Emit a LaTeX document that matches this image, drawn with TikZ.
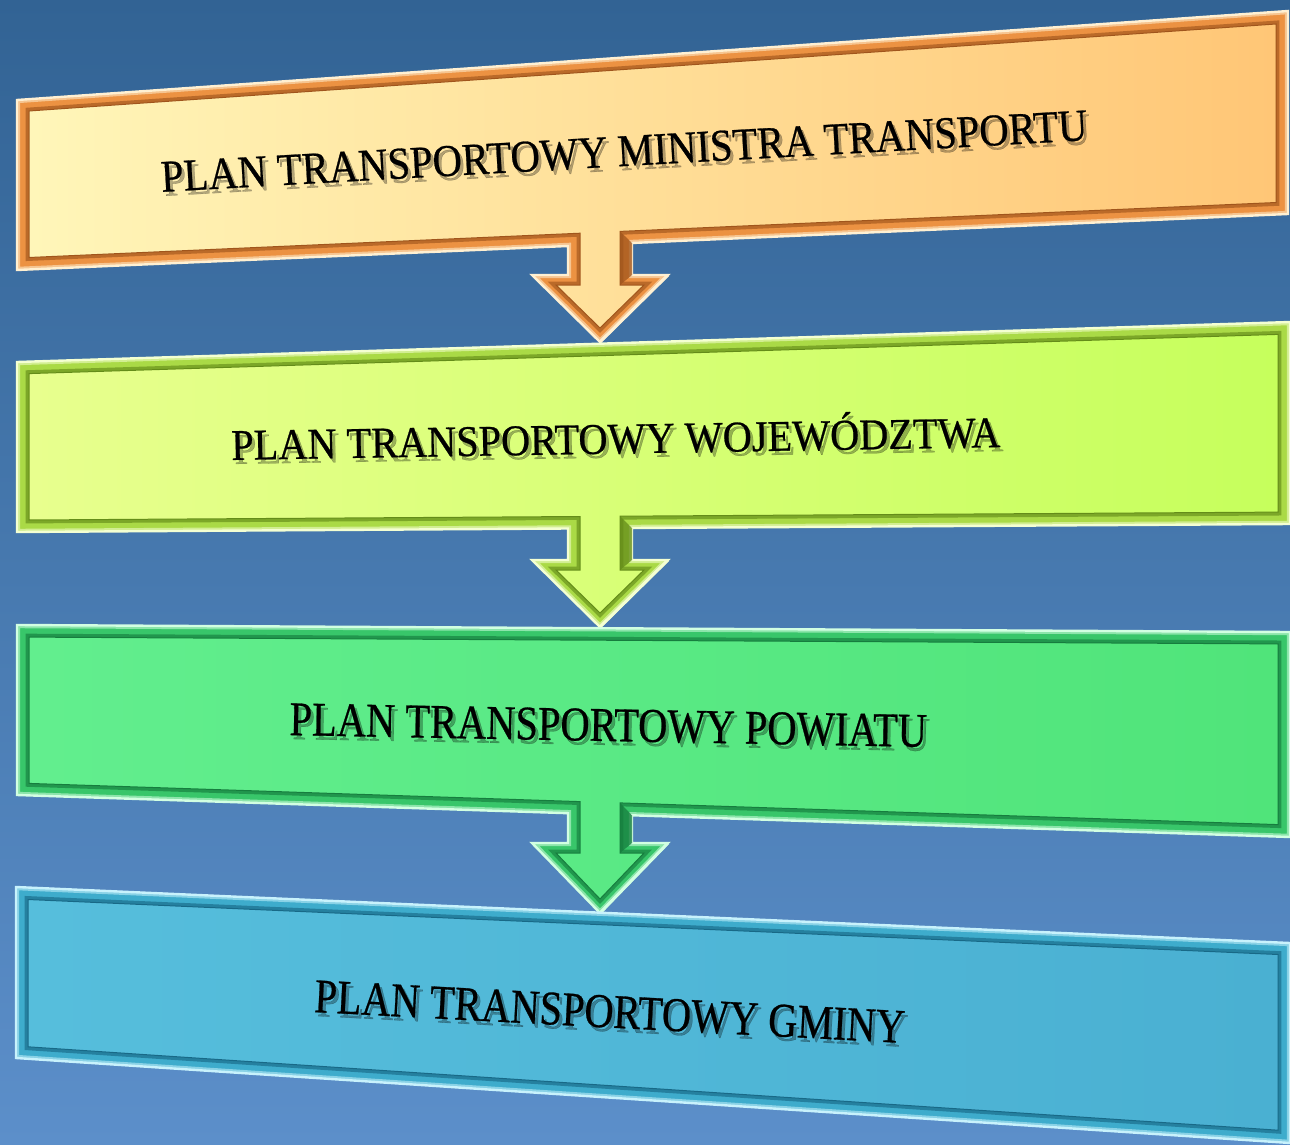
\documentclass[tikz,border=0pt]{standalone}
\usepackage{fontspec}
\setmainfont{Liberation Serif}[FakeBold=0.6]
\definecolor{bgtop}{RGB}{50,99,148}
\definecolor{bgbot}{RGB}{92,143,202}
% orange
\definecolor{Aband}{RGB}{236,146,66}
\definecolor{Adark}{RGB}{160,85,28}
\definecolor{Alight}{RGB}{255,240,210}
\definecolor{AL}{RGB}{255,246,185}
\definecolor{AR}{RGB}{255,198,118}
% lime
\definecolor{Bband}{RGB}{170,218,70}
\definecolor{Bdark}{RGB}{100,140,25}
\definecolor{Blight}{RGB}{244,255,210}
\definecolor{BL}{RGB}{232,255,142}
\definecolor{BR}{RGB}{198,255,92}
% green
\definecolor{Cband}{RGB}{56,198,106}
\definecolor{Cdark}{RGB}{22,125,62}
\definecolor{Clight}{RGB}{210,255,226}
\definecolor{CL}{RGB}{98,238,142}
\definecolor{CR}{RGB}{80,228,122}
% cyan
\definecolor{Dband}{RGB}{62,172,204}
\definecolor{Ddark}{RGB}{24,105,135}
\definecolor{Dlight}{RGB}{200,242,252}
\definecolor{DL}{RGB}{86,190,220}
\definecolor{DR}{RGB}{74,176,210}
\begin{document}
\begin{tikzpicture}[x={(0.5pt,0)},y={(0,-0.5pt)},
  dropshadow/.style={fill=black,opacity=0.28,shift={(4,6)}},
  bandpath/.style={fill=#1band,draw=#1light,line width=1.2pt},
  rimlight/.style={draw=#1light,line width=3.2pt,opacity=0.55},
  rimdark/.style={draw=#1dark,line width=3.4pt,opacity=0.65},
  innerpath/.style={left color=#1L,right color=#1R,draw=#1dark,line width=0.5pt},
  stemshade/.style={fill=#1dark,opacity=0.75},
  edgelight/.style={draw=#1light,line width=1.5pt},
  txt/.style={anchor=base,inner sep=0pt,text=black},
  txtshadow/.style={anchor=base,inner sep=0pt,text=black,opacity=0.3}]
\useasboundingbox (0,0) rectangle (1290,1145);
\shade[top color=bgtop,bottom color=bgbot] (0,0) rectangle (1290,1145);

% ---------- box 1 coordinates ----------
\coordinate (Ao1) at (17,100);   \coordinate (Ao2) at (1288,11);
\coordinate (Ao3) at (1288,214); \coordinate (Ao4) at (632,243);
\coordinate (Ao5) at (632,275);  \coordinate (Ao6) at (668,275);
\coordinate (Ao7) at (600,342);  \coordinate (Ao8) at (532,275);
\coordinate (Ao9) at (568,275);  \coordinate (Ao10) at (568,246);
\coordinate (Ao11) at (17,270);
\coordinate (Ai1) at (29,111);   \coordinate (Ai2) at (1276,24);
\coordinate (Ai3) at (1276,202.5); \coordinate (Ai4) at (620,231.4);
\coordinate (Ai5) at (620,285);  \coordinate (Ai6) at (644,285);
\coordinate (Ai7) at (600,328);  \coordinate (Ai8) at (556,285);
\coordinate (Ai9) at (580,285);  \coordinate (Ai10) at (580,233.2);
\coordinate (Ai11) at (29,257.5);
% ---------- box 2 coordinates ----------
\coordinate (Bo1) at (17,362);   \coordinate (Bo2) at (1290,322);
\coordinate (Bo3) at (1290,524); \coordinate (Bo4) at (632,528);
\coordinate (Bo5) at (632,560);  \coordinate (Bo6) at (668,560);
\coordinate (Bo7) at (600,627);  \coordinate (Bo8) at (532,560);
\coordinate (Bo9) at (568,560);  \coordinate (Bo10) at (568,528.5);
\coordinate (Bo11) at (17,532);
\coordinate (Bi1) at (29,373.6); \coordinate (Bi2) at (1278,334.4);
\coordinate (Bi3) at (1278,512.1); \coordinate (Bi4) at (620,516.2);
\coordinate (Bi5) at (620,570);  \coordinate (Bi6) at (644,570);
\coordinate (Bi7) at (600,613);  \coordinate (Bi8) at (556,570);
\coordinate (Bi9) at (580,570);  \coordinate (Bi10) at (580,516.5);
\coordinate (Bi11) at (29,520);
% ---------- box 3 coordinates ----------
\coordinate (Co1) at (17,625);   \coordinate (Co2) at (1290,632);
\coordinate (Co3) at (1290,837); \coordinate (Co4) at (632,815.3);
\coordinate (Co5) at (632,843);  \coordinate (Co6) at (668,843);
\coordinate (Co7) at (600,913);  \coordinate (Co8) at (532,843);
\coordinate (Co9) at (568,843);  \coordinate (Co10) at (568,813.2);
\coordinate (Co11) at (17,795);
\coordinate (Ci1) at (29,637.1); \coordinate (Ci2) at (1278,643.9);
\coordinate (Ci3) at (1278,824.6); \coordinate (Ci4) at (620,802.9);
\coordinate (Ci5) at (620,853);  \coordinate (Ci6) at (644,853);
\coordinate (Ci7) at (600,899);  \coordinate (Ci8) at (556,853);
\coordinate (Ci9) at (580,853);  \coordinate (Ci10) at (580,801.6);
\coordinate (Ci11) at (29,783.4);
% ---------- box 4 coordinates ----------
\coordinate (Do1) at (16,887);   \coordinate (Do2) at (1290,943);
\coordinate (Do3) at (1290,1143); \coordinate (Do4) at (16,1058);
\coordinate (Di1) at (28,899.5); \coordinate (Di2) at (1278,954.5);
\coordinate (Di3) at (1278,1130.2); \coordinate (Di4) at (28,1046.8);

% ---------- box 1 ----------
\fill[dropshadow] (Ao1)--(Ao2)--(Ao3)--(Ao4)--(Ao5)--(Ao6)--(Ao7)--(Ao8)--(Ao9)--(Ao10)--(Ao11)--cycle;
\filldraw[bandpath=A] (Ao1)--(Ao2)--(Ao3)--(Ao4)--(Ao5)--(Ao6)--(Ao7)--(Ao8)--(Ao9)--(Ao10)--(Ao11)--cycle;
\begin{scope}
\clip (Ao1)--(Ao2)--(Ao3)--(Ao4)--(Ao5)--(Ao6)--(Ao7)--(Ao8)--(Ao9)--(Ao10)--(Ao11)--cycle;
\draw[rimlight=A] (Ao1)--(Ao2)--(Ao3)--(Ao4)--(Ao5)--(Ao6)--(Ao7)--(Ao8)--(Ao9)--(Ao10)--(Ao11)--cycle;
\end{scope}
\draw[rimdark=A] (Ai1)--(Ai2)--(Ai3)--(Ai4)--(Ai5)--(Ai6)--(Ai7)--(Ai8)--(Ai9)--(Ai10)--(Ai11)--cycle;
\shade[innerpath=A] (Ai1)--(Ai2)--(Ai3)--(Ai4)--(Ai5)--(Ai6)--(Ai7)--(Ai8)--(Ai9)--(Ai10)--(Ai11)--cycle;
\fill[stemshade=A] (Ai4)--(Ao4)--(Ao5)--(Ai5)--cycle;
\draw[edgelight=A] (Ao6)--(Ao7);

% ---------- box 2 ----------
\fill[dropshadow] (Bo1)--(Bo2)--(Bo3)--(Bo4)--(Bo5)--(Bo6)--(Bo7)--(Bo8)--(Bo9)--(Bo10)--(Bo11)--cycle;
\filldraw[bandpath=B] (Bo1)--(Bo2)--(Bo3)--(Bo4)--(Bo5)--(Bo6)--(Bo7)--(Bo8)--(Bo9)--(Bo10)--(Bo11)--cycle;
\begin{scope}
\clip (Bo1)--(Bo2)--(Bo3)--(Bo4)--(Bo5)--(Bo6)--(Bo7)--(Bo8)--(Bo9)--(Bo10)--(Bo11)--cycle;
\draw[rimlight=B] (Bo1)--(Bo2)--(Bo3)--(Bo4)--(Bo5)--(Bo6)--(Bo7)--(Bo8)--(Bo9)--(Bo10)--(Bo11)--cycle;
\end{scope}
\draw[rimdark=B] (Bi1)--(Bi2)--(Bi3)--(Bi4)--(Bi5)--(Bi6)--(Bi7)--(Bi8)--(Bi9)--(Bi10)--(Bi11)--cycle;
\shade[innerpath=B] (Bi1)--(Bi2)--(Bi3)--(Bi4)--(Bi5)--(Bi6)--(Bi7)--(Bi8)--(Bi9)--(Bi10)--(Bi11)--cycle;
\fill[stemshade=B] (Bi4)--(Bo4)--(Bo5)--(Bi5)--cycle;
\draw[edgelight=B] (Bo6)--(Bo7);

% ---------- box 3 ----------
\fill[dropshadow] (Co1)--(Co2)--(Co3)--(Co4)--(Co5)--(Co6)--(Co7)--(Co8)--(Co9)--(Co10)--(Co11)--cycle;
\filldraw[bandpath=C] (Co1)--(Co2)--(Co3)--(Co4)--(Co5)--(Co6)--(Co7)--(Co8)--(Co9)--(Co10)--(Co11)--cycle;
\begin{scope}
\clip (Co1)--(Co2)--(Co3)--(Co4)--(Co5)--(Co6)--(Co7)--(Co8)--(Co9)--(Co10)--(Co11)--cycle;
\draw[rimlight=C] (Co1)--(Co2)--(Co3)--(Co4)--(Co5)--(Co6)--(Co7)--(Co8)--(Co9)--(Co10)--(Co11)--cycle;
\end{scope}
\draw[rimdark=C] (Ci1)--(Ci2)--(Ci3)--(Ci4)--(Ci5)--(Ci6)--(Ci7)--(Ci8)--(Ci9)--(Ci10)--(Ci11)--cycle;
\shade[innerpath=C] (Ci1)--(Ci2)--(Ci3)--(Ci4)--(Ci5)--(Ci6)--(Ci7)--(Ci8)--(Ci9)--(Ci10)--(Ci11)--cycle;
\fill[stemshade=C] (Ci4)--(Co4)--(Co5)--(Ci5)--cycle;
\draw[edgelight=C] (Co6)--(Co7);

% ---------- box 4 ----------
\fill[dropshadow] (Do1)--(Do2)--(Do3)--(Do4)--cycle;
\filldraw[bandpath=D] (Do1)--(Do2)--(Do3)--(Do4)--cycle;
\begin{scope}
\clip (Do1)--(Do2)--(Do3)--(Do4)--cycle;
\draw[rimlight=D] (Do1)--(Do2)--(Do3)--(Do4)--cycle;
\end{scope}
\draw[rimdark=D] (Di1)--(Di2)--(Di3)--(Di4)--cycle;
\shade[innerpath=D] (Di1)--(Di2)--(Di3)--(Di4)--cycle;

% ---------- texts (with soft shadow copies, as in the reference) ----------
\node[txtshadow,rotate=3.2,font=\fontsize{22.7}{27}\selectfont] (t1s) at (628,170) {\scalebox{0.895}[1]{PLAN TRANSPORTOWY MINISTRA TRANSPORTU}};
\node[txt,rotate=3.2,font=\fontsize{22.7}{27}\selectfont] (t1) at (625,166) {\scalebox{0.895}[1]{PLAN TRANSPORTOWY MINISTRA TRANSPORTU}};

\node[txtshadow,rotate=0.96,font=\fontsize{21.9}{26}\selectfont] (t2s) at (619,457.5) {\scalebox{0.92}[1]{PLAN TRANSPORTOWY WOJEWÓDZTWA}};
\node[txt,rotate=0.96,font=\fontsize{21.9}{26}\selectfont] (t2) at (616,453.5) {\scalebox{0.92}[1]{PLAN TRANSPORTOWY WOJEWÓDZTWA}};

\node[txtshadow,rotate=-1.07,font=\fontsize{24.2}{29}\selectfont] (t3s) at (611,745) {\scalebox{0.836}[1]{PLAN TRANSPORTOWY POWIATU}};
\node[txt,rotate=-1.07,font=\fontsize{24.2}{29}\selectfont] (t3) at (608,741) {\scalebox{0.836}[1]{PLAN TRANSPORTOWY POWIATU}};

\node[txtshadow,rotate=-3,font=\fontsize{24.2}{29}\selectfont] (t4s) at (612,1031.5) {\scalebox{0.834}[1]{PLAN TRANSPORTOWY GMINY}};
\node[txt,rotate=-3,font=\fontsize{24.2}{29}\selectfont] (t4) at (609,1027.5) {\scalebox{0.834}[1]{PLAN TRANSPORTOWY GMINY}};
\end{tikzpicture}
\end{document}
